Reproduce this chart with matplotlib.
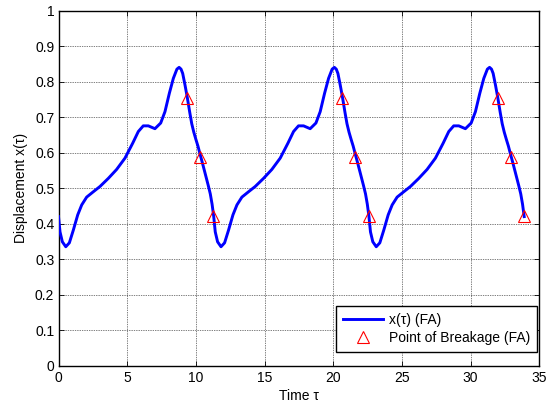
import numpy as np
import matplotlib
matplotlib.use("Agg")
import matplotlib.pyplot as plt

# One oscillation cycle of the displacement response (time, displacement)
cycle_tau = [0.00, 0.11, 0.28, 0.53, 0.79, 1.08, 1.40, 1.69, 2.05, 2.53,
             3.02, 3.63, 4.23, 4.84, 5.40, 5.81, 6.17, 6.54, 7.02, 7.44,
             7.75, 8.07, 8.36, 8.62, 8.78, 8.92, 9.04, 9.21, 9.38, 9.55,
             9.70, 9.85, 10.00, 10.15, 10.32, 10.50, 10.70, 10.90, 11.05, 11.18]
cycle_x = [0.420, 0.377, 0.349, 0.335, 0.346, 0.382, 0.425, 0.453, 0.475, 0.490,
           0.505, 0.528, 0.553, 0.585, 0.627, 0.660, 0.676, 0.676, 0.668, 0.684,
           0.716, 0.768, 0.810, 0.836, 0.841, 0.836, 0.824, 0.791, 0.755, 0.715,
           0.682, 0.658, 0.638, 0.619, 0.594, 0.568, 0.538, 0.508, 0.484, 0.455]
period = 11.3
n_cycles = 3

# Breakage points (FA)
break_tau = [9.35, 10.32, 11.27, 20.65, 21.62, 22.57, 31.99, 32.91, 33.86]
break_x = [0.755, 0.587, 0.423, 0.755, 0.587, 0.423, 0.755, 0.587, 0.423]

x_ticks = [0, 5, 10, 15, 20, 25, 30, 35]
y_ticks = [0, 0.1, 0.2, 0.3, 0.4, 0.5, 0.6, 0.7, 0.8, 0.9, 1]
y_tick_labels = ["0", "0.1", "0.2", "0.3", "0.4", "0.5", "0.6", "0.7", "0.8", "0.9", "1"]

tau = np.concatenate([np.asarray(cycle_tau) + k * period for k in range(n_cycles)] + [[n_cycles * period]])
x = np.concatenate([np.asarray(cycle_x)] * n_cycles + [[cycle_x[0]]])

plt.rcParams["font.family"] = ["Liberation Sans", "DejaVu Sans"]
plt.rcParams["font.size"] = 10

fig = plt.figure(figsize=(5.5, 4.07), dpi=100)
ax = fig.add_axes([58.5 / 550, 1 - 365.5 / 407, 480.8 / 550, 354.5 / 407])

ax.plot(tau, x, color=(0, 0, 1), linewidth=2.1, label="x(τ) (FA)", zorder=3)
ax.plot(break_tau, break_x, linestyle="none", marker="^", markersize=8.5,
        markerfacecolor="none", markeredgecolor=(1, 0, 0), markeredgewidth=0.8,
        label="Point of Breakage (FA)", zorder=4)

ax.set_xlim(0, 35)
ax.set_ylim(0, 1)
ax.set_xticks(x_ticks)
ax.set_yticks(y_ticks)
ax.set_yticklabels(y_tick_labels)
ax.tick_params(direction="in", length=3.5, width=0.6, top=True, right=True,
               labelsize=10, colors="black")
ax.tick_params(axis="x", pad=4)
ax.tick_params(axis="y", pad=3)
ax.grid(True, linestyle=(0, (1, 1.5)), color="black", linewidth=0.5)
for spine in ax.spines.values():
    spine.set_linewidth(1.0)
    spine.set_color("black")

ax.set_xlabel("Time τ", fontsize=10, labelpad=3)
ax.set_ylabel("Displacement x(τ)", fontsize=10, labelpad=5)

leg = ax.legend(loc="lower right", bbox_to_anchor=(0.995, 0.038), borderaxespad=0,
                fancybox=False, framealpha=1, edgecolor="black", fontsize=10,
                handlelength=2.9, handletextpad=0.4, labelspacing=0.3,
                borderpad=0.5, numpoints=1)
leg.get_frame().set_linewidth(1.0)

fig.savefig("out.png", dpi=100)
